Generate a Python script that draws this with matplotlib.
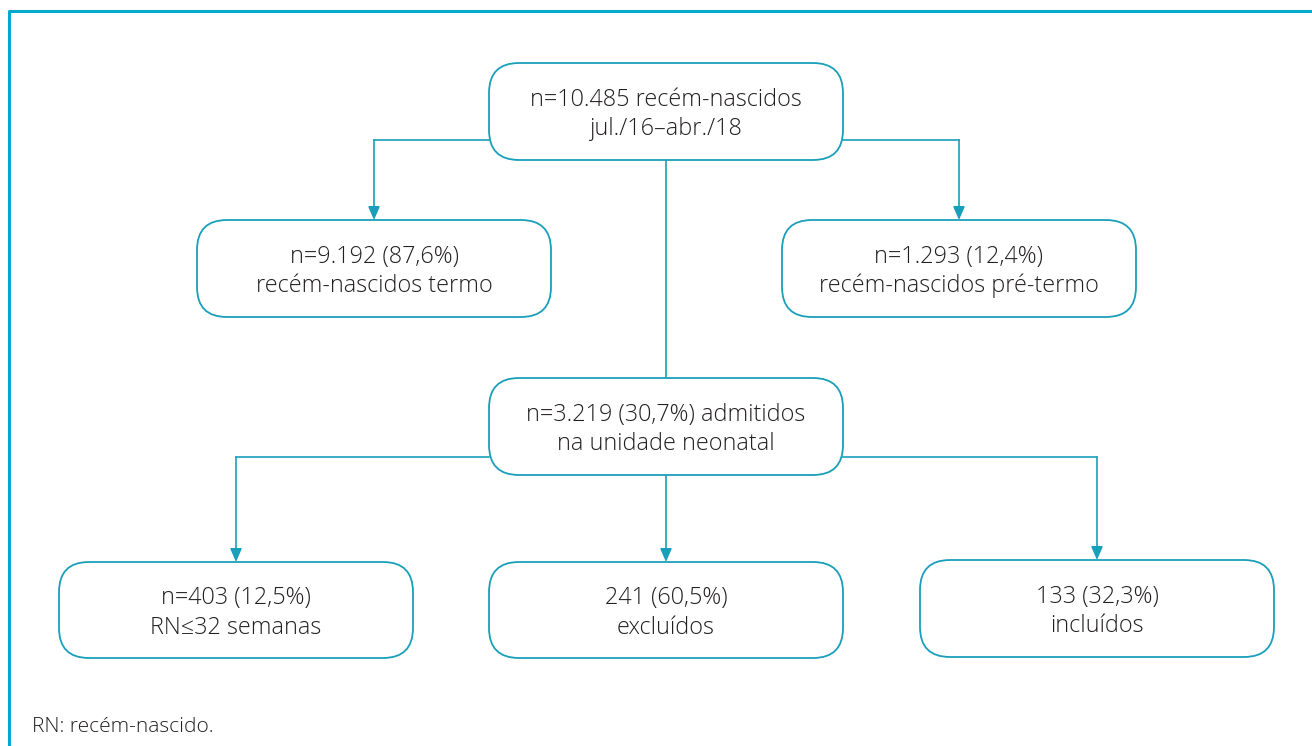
import matplotlib
matplotlib.use("Agg")
import matplotlib.pyplot as plt
from matplotlib.patches import FancyBboxPatch

# Node labels
labels = [
    "n=10.485 recém-nascidos\njul./16–abr./18",
    "n=9.192 (87,6%)\nrecém-nascidos termo",
    "n=1.293 (12,4%)\nrecém-nascidos pré-termo",
    "n=3.219 (30,7%) admitidos\nna unidade neonatal",
    "n=403 (12,5%)\nRN≤32 semanas",
    "241 (60,5%)\nexcluídos",
    "133 (32,3%)\nincluídos",
]
footnote = "RN: recém-nascido."

# Layout (pixel space): centre x, top y, width, height
boxes = [
    (666, 63, 354, 97),
    (374, 220, 354, 97),
    (959, 220, 354, 97),
    (666, 378, 354, 97),
    (236, 562, 354, 96),
    (666, 562, 354, 96),
    (1097, 560, 354, 97),
]

TEAL = "#1a9fba"
TXT = "#231f20"
W, H = 1312, 746

fig = plt.figure(figsize=(W / 100, H / 100), dpi=100)
ax = fig.add_axes([0, 0, 1, 1])
ax.set_xlim(0, W)
ax.set_ylim(H, 0)
ax.axis("off")

# outer frame (top and left)
ax.plot([9, 9, W], [H, 11, 11], color="#00aacc", lw=2.2, solid_capstyle="butt")

r = 30
for (cx, top, w, h), lab in zip(boxes, labels):
    p = FancyBboxPatch((cx - w / 2 + r, top + r), w - 2 * r, h - 2 * r,
                       boxstyle=f"round,pad={r}", fc="white", ec=TEAL, lw=1.3,
                       mutation_aspect=1, zorder=3)
    ax.add_patch(p)
    ax.text(cx, top + h / 2 + 3, lab, ha="center", va="center", fontsize=16.8,
            color=TXT, family="Open Sans", fontweight="light",
            linespacing=1.28, zorder=4)

def line(xs, ys):
    ax.plot(xs, ys, color=TEAL, lw=1.2, zorder=2)

def arrow(x, y0, y1):
    ax.annotate("", xy=(x, y1), xytext=(x, y0),
                arrowprops=dict(arrowstyle="-|>,head_length=0.8,head_width=0.35",
                                color=TEAL, lw=1.2, shrinkA=0, shrinkB=0), zorder=2)

# top level
line([489, 374], [140, 140]); arrow(374, 140, 220)
line([843, 959], [140, 140]); arrow(959, 140, 220)
line([666, 666], [160, 378])
# second level
line([489, 236], [457, 457]); arrow(236, 457, 562)
arrow(666, 475, 562)
line([843, 1097], [457, 457]); arrow(1097, 457, 560)

ax.text(32, 727, footnote, ha="left", va="center", fontsize=15, color=TXT,
        family="Open Sans", fontweight="light")

fig.savefig("out.png", dpi=100)
